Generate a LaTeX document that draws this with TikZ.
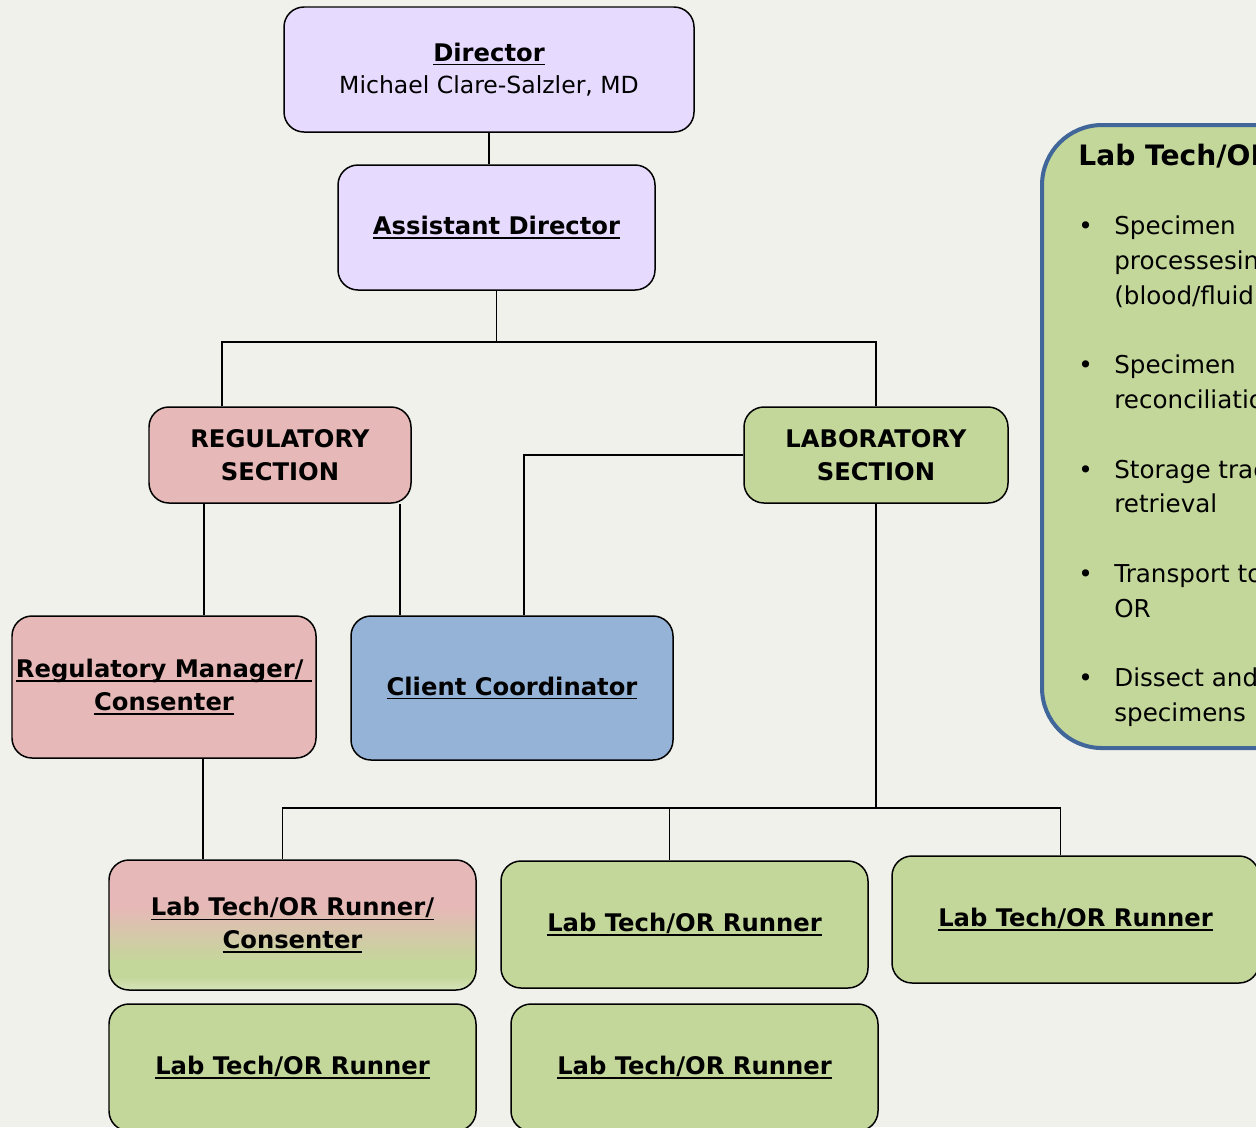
\documentclass[tikz,border=0pt]{standalone}
\usepackage{fontspec}
\setmainfont{DejaVu Sans}
\usepackage{xcolor}
\usetikzlibrary{positioning, calc}
\definecolor{bgpaper}{HTML}{F0F1EB}
\definecolor{lavender}{HTML}{E6DAFE}
\definecolor{regpink}{HTML}{E6B8B7}
\definecolor{labgreen}{HTML}{C4D79B}
\definecolor{lightgreen}{HTML}{D6E4BA}
\definecolor{clientblue}{HTML}{95B3D7}
\definecolor{panelblue}{HTML}{41679A}
\pgfdeclareverticalshading{pinktogreen}{100bp}{color(0bp)=(lightgreen); color(25bp)=(lightgreen); color(30bp)=(labgreen); color(36bp)=(labgreen); color(57bp)=(regpink); color(100bp)=(regpink)}
\newcommand{\ub}[1]{\setbox0\hbox{\textbf{#1}}\rlap{\rule[-2.4pt]{\wd0}{0.95pt}}\box0}

\begin{document}
\begin{tikzpicture}[
    box/.style={draw, line width=0.85pt, rounded corners=0.4cm, align=center, inner sep=0pt, font=\fontsize{13.8}{18.4}\selectfont},
    runner/.style={box, fill=labgreen, minimum width=7.34cm, minimum height=2.54cm},
    wire/.style={line width=1pt}]
\path[use as bounding box, fill=bgpaper] (0,0) rectangle (25.12,-22.54);
\clip (0,0) rectangle (25.12,-22.54);

% top of the chart
\node[box, fill=lavender, minimum width=8.2cm, minimum height=2.5cm] (director) at (9.78,-1.39) {\ub{Director}\\{\fontsize{13.4}{18.4}\selectfont Michael Clare-Salzler, MD}};
\node[box, fill=lavender, minimum width=6.34cm, minimum height=2.5cm] (asst) at (9.93,-4.55) {\ub{Assistant Director}};

% sections
\node[box, fill=regpink, minimum width=5.24cm, minimum height=1.92cm] (regsec) at (5.6,-9.1) {\textbf{REGULATORY}\\\textbf{SECTION}};
\node[box, fill=labgreen, minimum width=5.28cm, minimum height=1.92cm] (labsec) at (17.52,-9.1) {\textbf{LABORATORY}\\\textbf{SECTION}};
\node[box, fill=regpink, minimum width=6.08cm, minimum height=2.84cm] (regmgr) at (3.28,-13.74) {\ub{Regulatory Manager/~}\\\ub{Consenter}};
\node[box, fill=clientblue, minimum width=6.44cm, minimum height=2.88cm] (client) at (10.24,-13.76) {\ub{Client Coordinator}};

% runners
\node[runner, shade, shading=pinktogreen, minimum height=2.6cm] (runa) at (5.85,-18.5) {\ub{Lab Tech/OR Runner/}\\\ub{Consenter}};
\node[runner] (runb) at (13.69,-18.49) {\ub{Lab Tech/OR Runner}};
\node[runner] (runc) at (21.51,-18.39) {\ub{Lab Tech/OR Runner}};
\node[runner] (rund) at (5.85,-21.35) {\ub{Lab Tech/OR Runner}};
\node[runner] (rune) at (13.89,-21.35) {\ub{Lab Tech/OR Runner}};

% duties panel
\node[draw=panelblue, line width=2.3pt, fill=labgreen, rounded corners=1.2cm, anchor=north west, minimum width=6.5cm, minimum height=12.46cm] (duties) at (20.8,-2.46) {};
\node[anchor=base west, inner sep=0pt, font=\fontsize{14}{19.8}\selectfont] (dutylist) at (21.56,-3.3) {%
\begin{tabular}[t]{@{}p{0.72cm}@{}l@{}}
\multicolumn{2}{@{}l}{\fontsize{16}{19.8}\selectfont\textbf{Lab Tech/OR Runner}}\\
&\\
\textbullet & Specimen\\
& processesing\\
& (blood/fluid)\\
&\\
\textbullet & Specimen\\
& reconciliation\\
&\\
\textbullet & Storage tracking and\\
& retrieval\\
&\\
\textbullet & Transport to/from\\
& OR\\
&\\
\textbullet & Dissect and aliquot\\
& specimens
\end{tabular}};

% connectors
\coordinate (hub) at (9.96,-6.84);
\coordinate (bus) at (17.48,-16.16);
\draw[wire] (director.south) -- (director.south |- asst.north);
\draw[wire] (asst.south) -- (asst.south |- hub);
\draw[wire] ([xshift=-1.16cm]regsec.north) |- (asst.south |- hub) -| (labsec.north);
\draw[wire] ([xshift=-1.52cm]regsec.south) -- ([xshift=-1.52cm]regsec.south |- regmgr.north);
\draw[wire] ([xshift=-0.24cm]regsec.south east) -- ([xshift=-0.24cm]regsec.south east |- client.north);
\draw[wire] (labsec.west) -| ([xshift=0.24cm]client.north);
\draw[wire] (labsec.south) -- (labsec.south |- bus);
\draw[wire] ([xshift=-0.2cm]runa.north) |- (labsec.south |- bus) -| ([xshift=-0.3cm]runc.north);
\draw[wire] ([xshift=-0.3cm]runb.north) -- ([xshift=-0.3cm]runb.north |- bus);
\draw[wire] ([xshift=0.78cm]regmgr.south) -- ([xshift=0.78cm]regmgr.south |- runa.north);
\end{tikzpicture}
\end{document}
